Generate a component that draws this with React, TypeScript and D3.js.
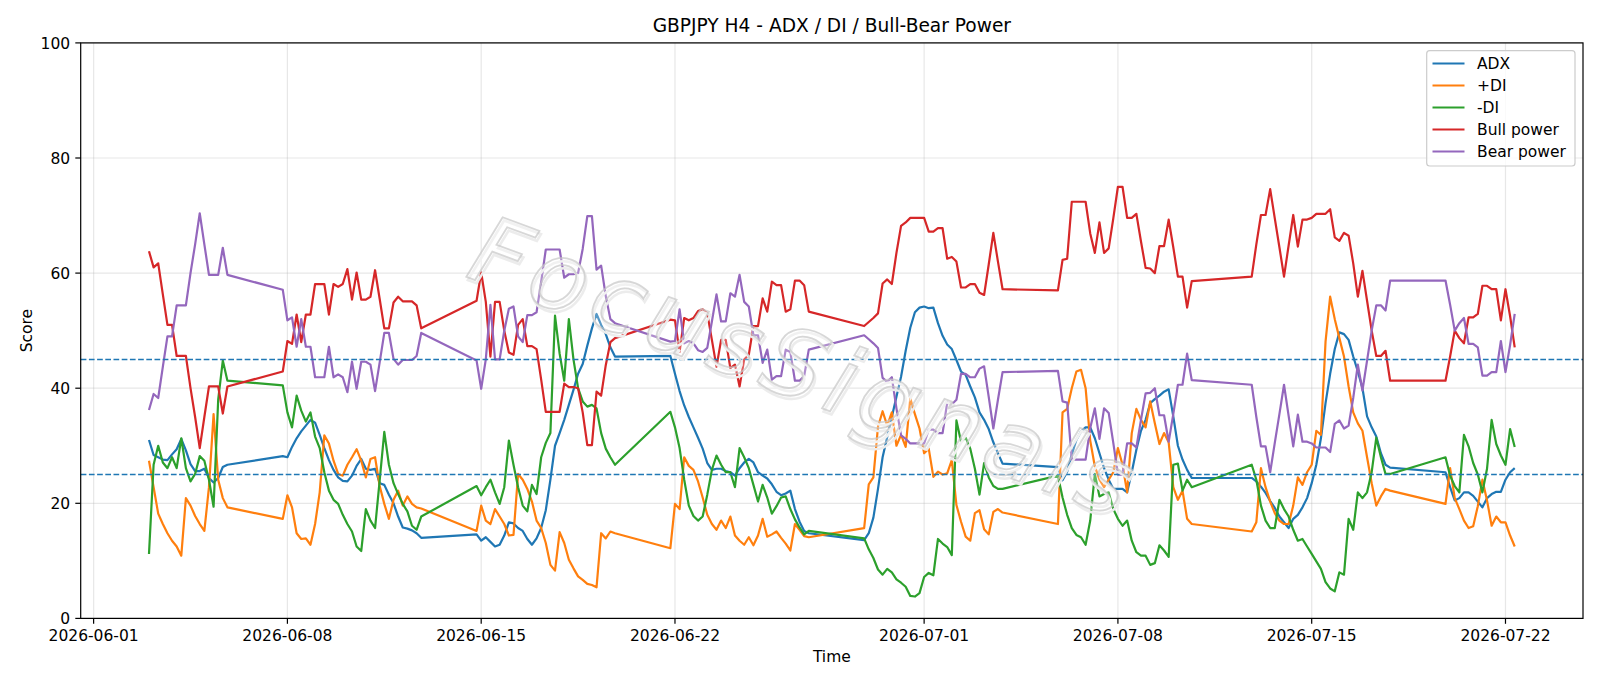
import React from "react";
import * as d3 from "d3";

// H4 sessions: first bar time (UTC) and number of bars in that run
const sessions = [
  { start: "2026-06-03T00:00", bars: 18 },
  { start: "2026-06-07T20:00", bars: 31 },
  { start: "2026-06-14T20:00", bars: 31 },
  { start: "2026-06-21T20:00", bars: 31 },
  { start: "2026-06-28T20:00", bars: 31 },
  { start: "2026-07-05T20:00", bars: 30 },
  { start: "2026-07-12T20:00", bars: 31 },
  { start: "2026-07-19T20:00", bars: 16 },
];

const adx = [
  31.0, 28.4, 28.0, 27.6, 27.5, 28.5, 29.4, 31.2, 29.2, 26.8, 25.6, 25.6, 26.0, 24.4, 23.6, 24.4, 26.3, 26.7,
  28.2, 28.0, 29.8, 31.3, 32.5, 33.5, 34.5, 34.0, 31.9, 29.6, 27.5, 25.8, 24.5, 23.9, 23.8, 24.8, 26.5, 27.7, 26.0, 25.8, 26.0, 23.5, 23.2, 21.5, 20.0, 17.7, 15.8, 15.6, 15.3, 14.8, 14.0,
  14.6, 13.5, 14.1, 13.3, 12.5, 12.8, 14.4, 16.7, 16.5, 15.7, 15.2, 13.8, 12.8, 13.9, 15.7, 18.8, 24.1, 30.0, 32.2, 34.5, 37.1, 39.7, 42.5, 44.2, 47.4, 50.4, 52.9, 51.0, 49.4, 47.1, 45.5,
  45.6, 42.5, 39.5, 37.0, 35.0, 33.2, 31.4, 29.5, 27.0, 25.8, 26.0, 26.0, 25.6, 25.4, 24.8, 26.1, 27.1, 27.7, 27.1, 25.4, 24.8, 24.3, 23.3, 22.0, 21.4, 21.7, 22.2, 19.0, 16.8, 15.2, 14.8,
  13.6, 14.8, 17.5, 22.5, 28.0, 31.5, 35.0, 38.5, 42.0, 46.5, 50.5, 53.2, 54.0, 54.2, 53.9, 54.0, 51.3, 49.1, 47.6, 46.8, 44.9, 42.9, 42.3, 40.3, 38.4, 35.8, 34.5, 32.9, 30.6, 28.7, 26.9,
  26.3, 24.0, 25.5, 28.5, 31.0, 32.5, 33.2, 33.2, 31.3, 28.7, 26.1, 24.1, 22.5, 22.5, 22.5, 21.9, 25.4, 29.3, 32.6, 34.5, 37.4, 38.1, 38.7, 39.4, 39.8, 35.1, 30.0, 27.6, 25.8, 24.4,
  24.4, 23.8, 22.9, 21.8, 20.4, 19.2, 17.7, 16.7, 15.7, 17.3, 18.0, 19.3, 20.9, 23.5, 26.7, 31.3, 37.4, 42.5, 46.8, 49.7, 49.4, 48.4, 45.5, 42.9, 40.0, 35.1, 33.2, 31.6, 28.7, 26.7, 26.2,
  25.4, 22.8, 20.5, 20.9, 21.9, 21.9, 21.3, 20.3, 19.3, 20.9, 21.6, 22.0, 22.0, 24.1, 25.4, 26.1,
];

const plusDi = [
  27.4, 22.8, 18.2, 16.4, 14.8, 13.5, 12.5, 10.9, 20.9, 19.6, 17.8, 16.4, 15.2, 22.8, 35.5, 24.1, 20.9, 19.3,
  17.3, 21.4, 19.3, 14.8, 13.8, 13.9, 12.8, 16.4, 21.9, 31.8, 30.4, 27.4, 25.1, 24.8, 26.7, 28.0, 29.4, 27.4, 24.5, 27.7, 28.0, 23.0, 19.9, 17.3, 20.6, 22.2, 19.6, 21.2, 19.9, 19.3, 19.1,
  15.2, 19.6, 17.0, 16.4, 19.0, 17.7, 16.4, 14.4, 14.5, 25.1, 24.1, 22.5, 20.3, 17.0, 15.7, 13.1, 9.3, 8.3, 15.0, 13.1, 10.2, 8.7, 7.3, 6.7, 6.0, 5.8, 5.4, 14.8, 13.9, 15.1, 14.8,
  12.2, 19.9, 19.0, 28.0, 26.5, 25.8, 23.8, 21.0, 18.0, 16.4, 15.4, 17.0, 15.7, 17.7, 14.4, 13.5, 12.8, 14.1, 12.7, 14.4, 17.3, 14.2, 14.6, 15.1, 14.0, 13.0, 11.8, 16.4, 15.4, 14.3, 14.1,
  15.7, 23.3, 24.5, 33.3, 36.0, 33.5, 35.8, 30.0, 31.9, 29.8, 38.2, 35.5, 33.0, 28.7, 29.5, 24.6, 25.5, 25.0, 25.2, 27.5, 19.7, 16.8, 14.2, 13.5, 18.3, 18.8, 15.5, 14.6, 18.5, 19.0, 18.4,
  16.4, 35.8, 36.4, 40.0, 42.9, 43.2, 40.0, 30.9, 26.4, 24.1, 22.8, 24.1, 25.4, 29.6, 26.7, 21.9, 32.2, 36.4, 34.5, 33.2, 37.7, 33.9, 30.3, 32.2, 30.6, 22.8, 20.6, 22.2, 17.3, 16.4,
  15.1, 16.7, 26.1, 22.8, 20.3, 18.3, 17.0, 16.4, 16.4, 19.6, 24.5, 23.2, 25.4, 26.7, 32.6, 31.9, 48.1, 55.9, 52.0, 48.7, 45.5, 40.3, 35.8, 33.9, 32.6, 28.0, 23.5, 19.6, 21.2, 22.5, 22.2,
  19.9, 26.1, 20.9, 19.0, 17.0, 15.7, 16.0, 19.5, 24.1, 20.5, 16.1, 17.7, 16.7, 16.7, 14.4, 12.5,
];

const minusDi = [
  11.2, 26.7, 30.0, 27.1, 26.1, 28.0, 26.1, 31.3, 26.1, 23.8, 25.1, 28.2, 27.4, 24.1, 19.4, 38.0, 44.8, 41.3,
  40.5, 35.8, 33.2, 38.7, 36.1, 34.2, 35.8, 31.6, 29.6, 25.4, 22.2, 20.6, 19.9, 18.0, 16.4, 15.1, 12.5, 11.7, 19.0, 17.0, 15.7, 24.0, 32.4, 26.7, 23.5, 21.6, 19.9, 18.6, 16.1, 15.4, 17.7,
  23.0, 21.4, 22.8, 24.1, 21.9, 19.9, 22.8, 30.9, 26.7, 22.8, 19.6, 18.6, 23.2, 21.6, 28.0, 30.5, 32.2, 52.6, 46.0, 41.3, 52.0, 45.0, 40.0, 37.7, 36.8, 37.1, 36.5, 32.2, 29.5, 28.0, 26.7,
  35.9, 33.2, 29.6, 24.1, 19.6, 17.8, 17.0, 17.7, 21.5, 25.8, 28.3, 26.7, 25.4, 25.4, 22.8, 29.6, 28.0, 26.1, 23.2, 20.3, 23.2, 21.0, 18.2, 19.5, 21.0, 21.2, 19.0, 17.2, 15.8, 14.6, 15.2,
  13.9, 12.0, 10.5, 8.5, 7.6, 8.6, 8.0, 6.8, 6.2, 5.5, 3.9, 3.8, 4.4, 7.2, 7.9, 7.5, 13.8, 13.0, 12.4, 11.0, 34.4, 30.7, 31.4, 29.5, 26.0, 21.5, 27.0, 24.5, 23.0, 22.5, 22.5,
  24.8, 21.0, 18.0, 15.7, 14.5, 14.1, 12.8, 17.0, 25.1, 21.2, 21.6, 21.9, 19.0, 17.3, 16.1, 17.0, 13.5, 11.5, 10.9, 10.9, 9.3, 9.6, 12.7, 11.8, 10.7, 26.7, 26.9, 22.2, 24.1, 22.8,
  26.7, 24.1, 19.6, 17.0, 15.7, 15.7, 20.6, 19.0, 17.7, 15.4, 13.5, 13.8, 12.5, 11.2, 9.9, 8.6, 6.3, 5.2, 4.7, 8.0, 7.6, 17.3, 15.4, 21.9, 20.9, 21.9, 25.4, 31.4, 28.0, 25.1, 25.1,
  28.0, 24.8, 23.0, 21.9, 31.9, 29.9, 27.0, 25.0, 21.9, 26.0, 34.5, 30.3, 28.3, 26.7, 32.9, 29.8,
];

const bullPower = [
  63.8, 61.0, 61.7, 56.3, 51.0, 51.0, 45.6, 45.6, 45.6, 40.0, 35.0, 29.6, 35.0, 40.3, 40.3, 40.3, 35.6, 40.3,
  42.9, 48.2, 47.7, 52.8, 48.0, 52.8, 52.8, 58.1, 58.1, 58.1, 52.8, 58.1, 57.6, 58.1, 60.7, 55.4, 60.1, 55.4, 55.4, 55.9, 60.5, 55.5, 50.4, 50.4, 54.9, 55.9, 55.1, 55.1, 55.1, 54.4, 50.4,
  55.2, 60.1, 55.0, 45.5, 55.0, 55.0, 50.0, 46.2, 45.8, 51.0, 52.0, 47.3, 47.3, 46.8, 41.5, 35.9, 35.9, 35.9, 35.9, 40.8, 40.2, 40.2, 40.0, 35.8, 30.1, 30.1, 39.4, 38.7, 44.0, 48.0, 48.7,
  51.9, 51.8, 46.3, 52.2, 51.8, 52.2, 53.4, 53.7, 53.0, 48.4, 43.7, 48.4, 48.4, 43.5, 44.1, 40.3, 45.0, 45.8, 50.8, 50.8, 55.6, 53.3, 58.5, 57.9, 57.9, 53.3, 53.7, 58.7, 58.7, 57.9, 53.3,
  50.8, 51.5, 52.2, 53.0, 58.2, 58.9, 58.1, 63.5, 68.2, 68.8, 69.6, 69.6, 69.6, 69.6, 67.2, 67.2, 67.8, 67.8, 62.5, 62.8, 62.0, 57.5, 57.5, 58.1, 58.1, 56.6, 56.2, 61.5, 67.0, 62.0, 57.2,
  57.0, 62.3, 62.5, 72.4, 72.4, 72.4, 72.4, 66.9, 63.5, 68.8, 63.5, 64.3, 69.5, 75.0, 75.0, 69.6, 69.6, 70.3, 65.5, 60.9, 60.8, 60.0, 64.7, 64.7, 69.3, 64.5, 59.4, 59.4, 54.0, 58.6,
  59.4, 65.0, 70.1, 70.1, 74.6, 69.5, 64.5, 59.4, 64.8, 70.1, 64.6, 69.3, 69.3, 69.6, 70.3, 70.3, 70.3, 71.1, 66.2, 65.6, 67.0, 66.5, 61.7, 55.9, 60.4, 55.2, 50.0, 45.6, 45.6, 46.5, 41.3,
  41.3, 45.5, 50.0, 48.7, 47.8, 52.3, 52.3, 52.9, 57.8, 57.8, 57.2, 57.2, 51.8, 57.2, 52.5, 47.1,
];

const bearPower = [
  36.2, 39.0, 38.3, 43.7, 49.0, 49.0, 54.4, 54.4, 54.4, 60.0, 65.0, 70.4, 65.0, 59.7, 59.7, 59.7, 64.4, 59.7,
  57.1, 51.8, 52.3, 47.2, 52.0, 47.2, 47.2, 41.9, 41.9, 41.9, 47.2, 41.9, 42.4, 41.9, 39.3, 44.6, 39.9, 44.6, 44.6, 44.1, 39.5, 44.5, 49.6, 49.6, 45.1, 44.1, 44.9, 44.9, 44.9, 45.6, 49.6,
  44.8, 39.9, 45.0, 54.5, 45.0, 45.0, 50.0, 53.8, 54.2, 49.0, 48.0, 52.7, 52.7, 53.2, 58.5, 64.1, 64.1, 64.1, 64.1, 59.2, 59.8, 59.8, 60.0, 64.2, 69.9, 69.9, 60.6, 61.3, 56.0, 52.0, 51.3,
  48.1, 48.2, 53.7, 47.8, 48.2, 47.8, 46.6, 46.3, 47.0, 51.6, 56.3, 51.6, 51.6, 56.5, 55.9, 59.7, 55.0, 54.2, 49.2, 49.2, 44.4, 46.7, 41.5, 42.1, 42.1, 46.7, 46.3, 41.3, 41.3, 42.1, 46.7,
  49.2, 48.5, 47.8, 47.0, 41.8, 41.1, 41.9, 36.5, 31.8, 31.2, 30.4, 30.4, 30.4, 30.4, 32.8, 32.8, 32.2, 32.2, 37.5, 37.2, 38.0, 42.5, 42.5, 41.9, 41.9, 43.4, 43.8, 38.5, 33.0, 38.0, 42.8,
  43.0, 37.7, 37.5, 27.6, 27.6, 27.6, 27.6, 33.1, 36.5, 31.2, 36.5, 35.7, 30.5, 25.0, 25.0, 30.4, 30.4, 29.7, 34.5, 39.1, 39.2, 40.0, 35.3, 35.3, 30.7, 35.5, 40.6, 40.6, 46.0, 41.4,
  40.6, 35.0, 29.9, 29.9, 25.4, 30.5, 35.5, 40.6, 35.2, 29.9, 35.4, 30.7, 30.7, 30.4, 29.7, 29.7, 29.7, 28.9, 33.8, 34.4, 33.0, 33.5, 38.3, 44.1, 39.6, 44.8, 50.0, 54.4, 54.4, 53.5, 58.7,
  58.7, 54.5, 50.0, 51.3, 52.2, 47.7, 47.7, 47.1, 42.2, 42.2, 42.8, 42.8, 48.2, 42.8, 47.5, 52.9,
];

const seriesNames = ["ADX", "+DI", "-DI", "Bull power", "Bear power"];
const seriesValues = [adx, plusDi, minusDi, bullPower, bearPower];
const seriesColors = ["#1f77b4", "#ff7f0e", "#2ca02c", "#d62728", "#9467bd"];

const levels = [45, 25];
const yTicks = [0, 20, 40, 60, 80, 100];
const xTickDates = ["2026-06-01", "2026-06-08", "2026-06-15", "2026-06-22", "2026-07-01", "2026-07-08", "2026-07-15", "2026-07-22"];
const watermark = "FocusSignals";

const W = 1600;
const H = 686;
const left = 80.7;
const right = 1583;
const top = 42.9;
const bottom = 618.4;
const font = "'DejaVu Sans', sans-serif";

const parseBar = d3.utcParse("%Y-%m-%dT%H:%M");
const parseDay = d3.utcParse("%Y-%m-%d");
const fmtDay = d3.utcFormat("%Y-%m-%d");

export default function App() {
  const times: Date[] = sessions.flatMap((s) => {
    const t0 = parseBar(s.start) as Date;
    return d3.range(s.bars).map((i) => d3.utcHour.offset(t0, 4 * i));
  });

  // matplotlib-style 5% margin on the time axis
  const [t0, t1] = d3.extent(times) as [Date, Date];
  const pad = (t1.getTime() - t0.getTime()) * 0.05;
  const x = d3
    .scaleUtc()
    .domain([new Date(t0.getTime() - pad), new Date(t1.getTime() + pad)])
    .range([left, right]);
  const y = d3.scaleLinear().domain([0, 100]).range([bottom, top]);

  const line = d3
    .line<number>()
    .x((_, i) => x(times[i]))
    .y((d) => y(d));

  const xTicks = xTickDates.map((d) => parseDay(d) as Date);

  return (
    <svg
      width={W}
      height={H}
      style={{ position: "fixed", left: 0, top: 0, background: "#fff" }}
      fontFamily={font}
    >
      <rect x={0} y={0} width={W} height={H} fill="#fff" />

      {/* grid */}
      <g stroke="#b0b0b0" strokeOpacity={0.3} strokeWidth={1.2}>
        {xTicks.map((d, i) => (
          <line key={"gx" + i} x1={x(d)} x2={x(d)} y1={top} y2={bottom} />
        ))}
        {yTicks.map((v) => (
          <line key={"gy" + v} x1={left} x2={right} y1={y(v)} y2={y(v)} />
        ))}
      </g>

      {/* series */}
      <g fill="none" strokeWidth={2.2} strokeLinejoin="round" strokeLinecap="butt">
        {seriesValues.map((vals, i) => (
          <path key={seriesNames[i]} d={line(vals) || ""} stroke={seriesColors[i]} />
        ))}
      </g>

      {/* reference levels */}
      {levels.map((v) => (
        <line
          key={"lv" + v}
          x1={left}
          x2={right}
          y1={y(v)}
          y2={y(v)}
          stroke="#1f77b4"
          strokeWidth={1.5}
          strokeDasharray="5.7 2.5"
        />
      ))}

      {/* watermark */}
      <g transform="translate(464 276) rotate(20.3)">
        <text
          x={2.5}
          y={2.5}
          fontSize={94}
          fontStyle="italic"
          textLength={696}
          lengthAdjust="spacing"
          fill="none"
          stroke="#ececec"
          strokeWidth={2.5}
        >
          {watermark}
        </text>
        <text
          x={0}
          y={0}
          fontSize={94}
          fontStyle="italic"
          textLength={696}
          lengthAdjust="spacing"
          fill="#ffffff"
          fillOpacity={0.25}
          stroke="#c6c6c6"
          strokeOpacity={0.7}
          strokeWidth={1.8}
        >
          {watermark}
        </text>
      </g>

      {/* frame */}
      <rect x={left} y={top} width={right - left} height={bottom - top} fill="none" stroke="#000" strokeWidth={1.2} />

      {/* x axis */}
      <g fontSize={15.5} fill="#000">
        {xTicks.map((d, i) => (
          <g key={"xt" + i}>
            <line x1={x(d)} x2={x(d)} y1={bottom} y2={bottom + 5.4} stroke="#000" strokeWidth={1.2} />
            <text x={x(d)} y={bottom + 22.5} textAnchor="middle">
              {fmtDay(d)}
            </text>
          </g>
        ))}
        <text x={(left + right) / 2} y={662} textAnchor="middle">
          Time
        </text>
      </g>

      {/* y axis */}
      <g fontSize={15.5} fill="#000">
        {yTicks.map((v) => (
          <g key={"yt" + v}>
            <line x1={left - 5.4} x2={left} y1={y(v)} y2={y(v)} stroke="#000" strokeWidth={1.2} />
            <text x={left - 10.5} y={y(v) + 5.6} textAnchor="end">
              {v}
            </text>
          </g>
        ))}
        <text transform={`translate(31.5 ${(top + bottom) / 2}) rotate(-90)`} textAnchor="middle">
          Score
        </text>
      </g>

      {/* title */}
      <text x={(left + right) / 2} y={32} textAnchor="middle" fontSize={18.6} fill="#000">
        GBPJPY H4 - ADX / DI / Bull-Bear Power
      </text>

      {/* legend */}
      <g>
        <rect
          x={1426.7}
          y={50.7}
          width={148.3}
          height={115.3}
          rx={3}
          fill="#fff"
          fillOpacity={0.8}
          stroke="#cccccc"
          strokeWidth={1.2}
        />
        {seriesNames.map((name, i) => {
          const ly = 63.5 + 22 * i;
          return (
            <g key={"lg" + name}>
              <line x1={1432.5} x2={1464.5} y1={ly} y2={ly} stroke={seriesColors[i]} strokeWidth={2.2} />
              <text x={1477} y={ly + 5.5} fontSize={15.5} fill="#000">
                {name}
              </text>
            </g>
          );
        })}
      </g>
    </svg>
  );
}
